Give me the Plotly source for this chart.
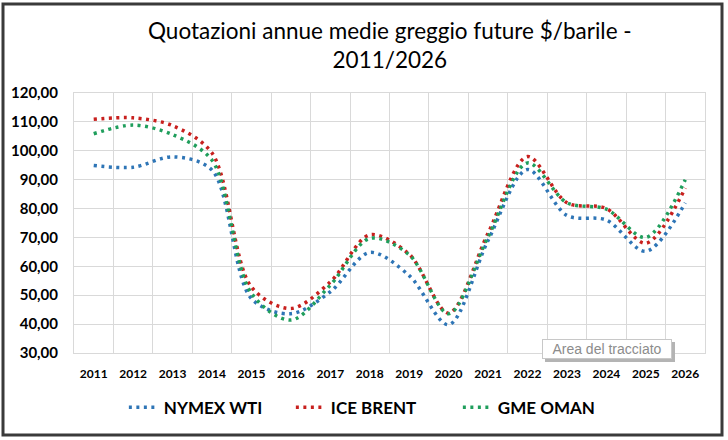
import plotly.graph_objects as go

# annual averages ($/barrel)
years = [str(y) for y in range(2011, 2027)]
wti = [94.9, 94.3, 97.9, 93.3, 48.8, 43.6, 51.2, 64.8, 56.8, 39.8,
       69.0, 93.5, 77.6, 76.0, 65.2, 82.0]
brent = [110.9, 111.4, 108.7, 99.2, 52.8, 45.4, 54.6, 70.9, 64.2, 43.8,
         71.5, 98.0, 82.0, 80.0, 68.0, 87.1]
oman = [105.9, 108.9, 105.6, 96.7, 50.6, 41.4, 53.5, 69.7, 64.0, 43.6,
        70.2, 95.8, 82.0, 79.8, 70.0, 90.0]

series = [
    ("NYMEX WTI", wti, "#2E75B6"),
    ("ICE BRENT", brent, "#C8201E"),
    ("GME OMAN", oman, "#1F9E5C"),
]

font_main = "Lato, Roboto, sans-serif"

fig = go.Figure()
for name, vals, color in series:
    fig.add_trace(go.Scatter(
        x=years, y=vals, name=name, mode="lines",
        line=dict(color=color, width=3.5, dash="3px,4.5px", shape="spline", smoothing=0.9),
    ))


def px_x(p):
    return (p - 74) / 631


def px_y(p):
    return (353 - p) / 260


fig.update_layout(
    width=728, height=440,
    margin=dict(l=74, r=23, t=93, b=87),
    paper_bgcolor="white", plot_bgcolor="white",
    separators=",.",
    showlegend=True,
    legend=dict(
        orientation="h", x=0.476, xanchor="center", y=-0.21, yanchor="middle",
        font=dict(family=font_main, size=17, color="black", weight="bold"),
        entrywidth=122, tracegroupgap=0,
    ),
    annotations=[
        dict(
            text="Quotazioni annue medie greggio future $/barile -<br>2011/2026",
            xref="paper", yref="paper", x=0.5, y=px_y(45),
            xanchor="center", yanchor="middle", showarrow=False,
            font=dict(family=font_main, size=22.5, color="black"),
        ),
        # "Area del tracciato" hover box
        dict(text="Area del tracciato", xref="paper", yref="paper",
             x=px_x(542), y=px_y(349), xanchor="left", yanchor="middle",
             showarrow=False, width=124, height=14,
             font=dict(family="Liberation Sans, Arial", size=14, color="#8C8C8C"),
             bgcolor="white", bordercolor="#C8C8C8", borderwidth=1, borderpad=2),
    ],
    shapes=[
        dict(type="rect", xref="paper", yref="paper",
             x0=px_x(3), x1=px_x(722), y0=px_y(435), y1=px_y(4),
             line=dict(color="#3A3A3A", width=3)),
        # drop shadow of the hover box
        dict(type="rect", xref="paper", yref="paper", layer="above",
             x0=px_x(545), x1=px_x(675), y0=px_y(362), y1=px_y(342),
             fillcolor="#B4B4B4", line=dict(width=0)),
    ],
)

fig.update_xaxes(
    type="category", range=[-0.5, 15.5], tickson="boundaries",
    showgrid=True, gridcolor="#D9D9D9", gridwidth=1,
    showline=True, linecolor="#D9D9D9", mirror=True,
    ticks="", ticklabelstandoff=10,
    tickfont=dict(family=font_main, size=12, color="black", weight="bold"),
)
fig.update_yaxes(
    range=[30, 120], dtick=10, tickformat=".2f",
    showgrid=True, gridcolor="#D9D9D9", gridwidth=1,
    showline=True, linecolor="#D9D9D9", mirror=True, zeroline=False,
    ticks="outside", ticklen=12, tickcolor="rgba(0,0,0,0)",
    tickfont=dict(family=font_main, size=15, color="black", weight="bold"),
)

fig.write_html("out.html", config={"displayModeBar": False},
               post_script="document.body.style.margin='0';")
